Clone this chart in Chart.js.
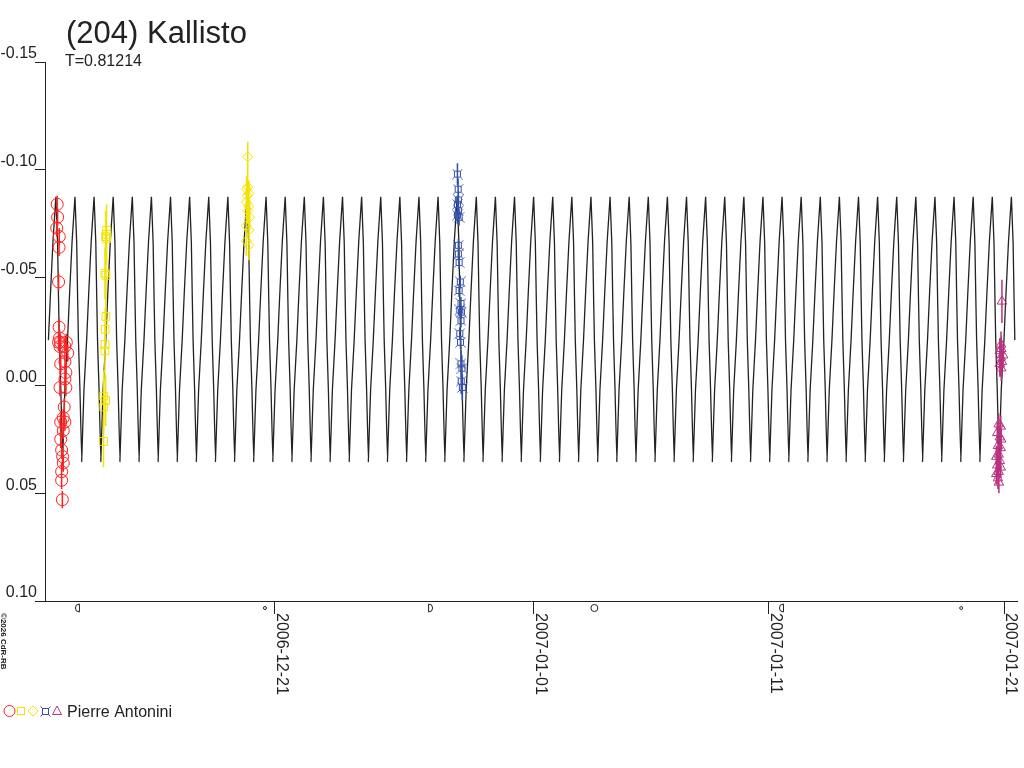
<!DOCTYPE html>
<html>
<head>
<meta charset="utf-8">
<title>(204) Kallisto</title>
<script src="https://cdn.jsdelivr.net/npm/chart.js@4.4.1/dist/chart.umd.min.js"></script>
<style>
  html, body { margin: 0; padding: 0; background: #fff; }
  canvas { display: block; }
</style>
</head>
<body>
<canvas id="lc" width="1024" height="768"></canvas>
<script>
// days are counted from 2006-12-21 00:00 UT, magnitudes are relative
var titleText = '(204) Kallisto';
var subtitleText = 'T=0.81214';
var observer = 'Pierre Antonini';
var copyright = '\u00a92026 CdR-RB';

var tickDays = [0, 11, 21, 31];
var tickLabels = ['2006-12-21', '2007-01-01', '2007-01-11', '2007-01-21'];
var yTicks = [-0.15, -0.10, -0.05, 0.00, 0.05, 0.10];

// moon phases shown under the axis
var moonDays = [-8.39, -0.42, 6.62, 13.58, 21.53, 29.17];
var moonKinds = ['last', 'new', 'first', 'full', 'last', 'new'];

// session 1 (red circles)
var redDays = [-9.25, -9.23, -9.27, -9.16, -9.17, -9.19, -9.17, -9.15, -9.19, -9.11, -9.13,
  -8.86, -8.80, -8.92, -9.10, -8.92, -8.88, -9.13, -8.92, -8.88, -8.95, -8.99, -9.10,
  -8.92, -8.99, -9.10, -9.06, -9.02, -8.99, -9.06, -9.06, -9.03];
var redMags = [-0.084, -0.078, -0.073, -0.069, -0.064, -0.048, -0.027, -0.022, -0.020, -0.020, -0.018,
  -0.020, -0.015, -0.018, -0.010, -0.011, -0.006, 0.001, -0.003, 0.001, 0.010, 0.015, 0.017,
  0.017, 0.021, 0.025, 0.030, 0.033, 0.036, 0.040, 0.044, 0.053];
var redErr = [0.004, 0.004, 0.004, 0.004, 0.004, 0.004, 0.004, 0.004, 0.004, 0.004, 0.004,
  0.004, 0.004, 0.004, 0.004, 0.004, 0.004, 0.004, 0.004, 0.004, 0.004, 0.004, 0.004,
  0.004, 0.004, 0.004, 0.004, 0.004, 0.004, 0.004, 0.004, 0.004];

// session 2 (yellow squares)
var sqDays = [-7.15, -7.15, -7.15, -7.19, -7.22, -7.18, -7.18, -7.21, -7.22, -7.22, -7.27, -7.19, -7.27, -7.28];
var sqMags = [-0.072, -0.070, -0.068, -0.069, -0.052, -0.051, -0.032, -0.026, -0.019, -0.016, 0.005, 0.007, 0.010, 0.026];
var sqErr = [0.012, 0.012, 0.012, 0.012, 0.012, 0.012, 0.008, 0.010, 0.010, 0.010, 0.012, 0.012, 0.012, 0.012];

// session 3 (yellow diamonds)
var diaDays = [-1.15, -1.15, -1.20, -1.10, -1.17, -1.21, -1.10, -1.15, -1.07, -1.21, -1.10, -1.21, -1.10];
var diaMags = [-0.106, -0.092, -0.091, -0.089, -0.088, -0.085, -0.083, -0.081, -0.078, -0.074, -0.072, -0.067, -0.065];
var diaErr = [0.007, 0.007, 0.006, 0.006, 0.006, 0.006, 0.006, 0.006, 0.006, 0.006, 0.006, 0.007, 0.007];

// session 4 (blue)
var blueDays = [7.76, 7.79, 7.80, 7.76, 7.80, 7.76, 7.83, 7.80, 7.80, 7.83, 7.88, 7.83, 7.91, 7.86,
  7.93, 7.91, 7.86, 7.89, 7.91, 7.95, 7.92, 7.97];
var blueMags = [-0.098, -0.091, -0.086, -0.084, -0.081, -0.079, -0.078, -0.065, -0.061, -0.057, -0.048,
  -0.044, -0.038, -0.035, -0.034, -0.030, -0.024, -0.020, -0.010, -0.008, -0.002, 0.001];
var blueErr = [0.005, 0.005, 0.004, 0.004, 0.004, 0.004, 0.004, 0.003, 0.003, 0.003, 0.003,
  0.003, 0.003, 0.003, 0.003, 0.003, 0.003, 0.003, 0.006, 0.006, 0.006, 0.006];

// session 5 (magenta triangles)
var magDays = [30.90, 30.86, 30.87, 30.81, 30.95, 30.85, 30.90, 30.81, 30.87,
  30.76, 30.85, 30.70, 30.81, 30.87, 30.73, 30.85, 30.76, 30.66, 30.81, 30.70, 30.85, 30.76, 30.66, 30.73, 30.77];
var magMags = [-0.039, -0.019, -0.017, -0.016, -0.014, -0.013, -0.011, -0.010, -0.008,
  0.018, 0.019, 0.022, 0.024, 0.025, 0.028, 0.029, 0.032, 0.033, 0.035, 0.037, 0.038, 0.040, 0.041, 0.043, 0.045];
var magErr = [0.010, 0.006, 0.006, 0.006, 0.006, 0.006, 0.006, 0.006, 0.006,
  0.005, 0.005, 0.005, 0.005, 0.005, 0.005, 0.005, 0.005, 0.005, 0.005, 0.005, 0.005, 0.005, 0.005, 0.005, 0.005];

// fitted light curve: one cycle, repeated with the period T
var period = 0.81214;
var peakEpoch = -8.493;
var cyclePhase = [0, 0.09, 0.14, 0.18, 0.26, 0.35, 0.47, 0.61, 0.72, 0.85];
var cycleMag = [-0.0875, -0.066, -0.040, -0.021, 0.002, 0.0354, 0.002, -0.021, -0.043, -0.067];
var curveStart = -9.68;
var curveEnd = 31.45;

var ink = '#222222';
var red = '#ff2020';
var yellow = '#f2e200';
var blue = '#3550a8';
var magenta = '#b8327f';
var font = '"Liberation Sans", Arial, sans-serif';

function pts(days, mags) {
  return days.map((d, i) => ({x: d, y: mags[i]}));
}

var curvePts = [];
for (var k = -3; k < 55; k++) {
  cyclePhase.forEach(function(p, i) {
    var t = peakEpoch + (k + p) * period;
    if (t >= curveStart && t <= curveEnd) curvePts.push({x: t, y: cycleMag[i]});
  });
}

function boxStar(color) {
  var c = document.createElement('canvas');
  c.width = 11; c.height = 11;
  var g = c.getContext('2d');
  g.strokeStyle = color;
  g.lineWidth = 1;
  g.strokeRect(2.5, 2.5, 6, 6);
  g.beginPath();
  g.moveTo(0.5, 0.5); g.lineTo(3, 3);
  g.moveTo(10.5, 0.5); g.lineTo(8, 3);
  g.moveTo(0.5, 10.5); g.lineTo(3, 8);
  g.moveTo(10.5, 10.5); g.lineTo(8, 8);
  g.stroke();
  return c;
}
var blueMark = boxStar(blue);

var series = [
  {days: redDays, mags: redMags, err: redErr, color: red},
  {days: sqDays, mags: sqMags, err: sqErr, color: yellow},
  {days: diaDays, mags: diaMags, err: diaErr, color: yellow},
  {days: blueDays, mags: blueMags, err: blueErr, color: blue},
  {days: magDays, mags: magMags, err: magErr, color: magenta}
];
var curveIndex = 5;

function drawErrorBars(chart) {
  var ctx = chart.ctx, x = chart.scales.x, y = chart.scales.y;
  ctx.save();
  ctx.lineWidth = 1.5;
  series.forEach(function(s) {
    ctx.strokeStyle = s.color;
    ctx.beginPath();
    s.days.forEach(function(d, i) {
      var px = x.getPixelForValue(d);
      ctx.moveTo(px, y.getPixelForValue(s.mags[i] - s.err[i]));
      ctx.lineTo(px, y.getPixelForValue(s.mags[i] + s.err[i]));
    });
    ctx.stroke();
  });
  ctx.restore();
}

function drawMoon(ctx, px, py, kind) {
  ctx.beginPath();
  if (kind === 'full') {
    ctx.arc(px, py, 3.5, 0, Math.PI * 2);
  } else if (kind === 'new') {
    ctx.arc(px, py, 1.5, 0, Math.PI * 2);
  } else if (kind === 'first') {
    ctx.arc(px - 2, py, 4, -Math.PI / 2, Math.PI / 2);
    ctx.closePath();
  } else {
    ctx.arc(px + 2, py, 4, Math.PI / 2, Math.PI * 1.5);
    ctx.closePath();
  }
  ctx.stroke();
}

var decor = {
  id: 'decor',
  afterDatasetDraw: function(chart, args) {
    if (args.index === curveIndex) drawErrorBars(chart);
  },
  afterDraw: function(chart) {
    var ctx = chart.ctx, x = chart.scales.x, area = chart.chartArea;
    ctx.save();
    ctx.fillStyle = ink;
    ctx.strokeStyle = ink;
    ctx.textAlign = 'left';
    ctx.textBaseline = 'alphabetic';

    ctx.font = '31px ' + font;
    ctx.fillText(titleText, 66, 43);
    ctx.font = '16px ' + font;
    ctx.fillText(subtitleText, 65, 66);

    // date labels, reading downwards from the tick
    tickDays.forEach(function(d, i) {
      ctx.save();
      ctx.translate(x.getPixelForValue(d) + 2, area.bottom + 12);
      ctx.rotate(Math.PI / 2);
      ctx.fillText(tickLabels[i], 0, 0);
      ctx.restore();
    });

    ctx.lineWidth = 1;
    moonDays.forEach(function(d, i) {
      drawMoon(ctx, x.getPixelForValue(d), area.bottom + 7, moonKinds[i]);
    });

    ctx.save();
    ctx.font = 'bold 8px ' + font;
    ctx.translate(1, 613);
    ctx.rotate(Math.PI / 2);
    ctx.fillText(copyright, 0, 0);
    ctx.restore();

    // legend
    var ly = 711;
    ctx.lineWidth = 1;
    ctx.strokeStyle = red;
    ctx.beginPath(); ctx.arc(9.5, ly, 5.5, 0, Math.PI * 2); ctx.stroke();
    ctx.strokeStyle = yellow;
    ctx.strokeRect(17.5, ly - 3.5, 7, 7);
    ctx.beginPath();
    ctx.moveTo(33, ly - 5); ctx.lineTo(38, ly); ctx.lineTo(33, ly + 5); ctx.lineTo(28, ly); ctx.closePath();
    ctx.stroke();
    ctx.drawImage(blueMark, 40, ly - 5);
    ctx.strokeStyle = magenta;
    ctx.beginPath();
    ctx.moveTo(57, ly - 5); ctx.lineTo(61.5, ly + 3.5); ctx.lineTo(52.5, ly + 3.5); ctx.closePath();
    ctx.stroke();
    ctx.fillStyle = ink;
    ctx.font = '16px ' + font;
    ctx.fillText(observer, 67, 717);
    ctx.restore();
  }
};

var none = 'rgba(0,0,0,0)';

new Chart(document.getElementById('lc').getContext('2d'), {
  type: 'scatter',
  data: {
    datasets: [
      {data: pts(redDays, redMags), pointStyle: 'circle', pointRadius: 6,
        borderColor: red, backgroundColor: none, pointBorderWidth: 1},
      {data: pts(sqDays, sqMags), pointStyle: 'rect', pointRadius: 5.5,
        borderColor: yellow, backgroundColor: none, pointBorderWidth: 1},
      {data: pts(diaDays, diaMags), pointStyle: 'rectRot', pointRadius: 5,
        borderColor: yellow, backgroundColor: none, pointBorderWidth: 1},
      {data: pts(blueDays, blueMags), pointStyle: blueMark, pointRadius: 5,
        borderColor: blue, backgroundColor: none},
      {data: pts(magDays, magMags), pointStyle: 'triangle', pointRadius: 5.5,
        borderColor: magenta, backgroundColor: none, pointBorderWidth: 1},
      // tiny tension keeps Chart.js off its column-merging fast path
      {type: 'line', data: curvePts, borderColor: ink, borderWidth: 1.3,
        pointRadius: 0, tension: 0.001, fill: false}
    ]
  },
  options: {
    responsive: false,
    animation: false,
    devicePixelRatio: 1,
    events: [],
    layout: {padding: {top: 62, right: 5, left: 0, bottom: 0}},
    plugins: {legend: {display: false}, tooltip: {enabled: false}},
    scales: {
      x: {
        type: 'linear',
        min: -9.767,
        max: 31.54,
        afterBuildTicks: function(scale) {
          scale.ticks = tickDays.map(v => ({value: v}));
        },
        afterFit: function(scale) { scale.height = 167; },
        ticks: {display: false},
        grid: {drawOnChartArea: false, tickLength: 13, color: ink, lineWidth: 1},
        border: {color: ink, width: 1}
      },
      y: {
        reverse: true,
        min: -0.15,
        max: 0.10,
        afterBuildTicks: function(scale) {
          scale.ticks = yTicks.map(v => ({value: v}));
        },
        afterFit: function(scale) { scale.width = 45; },
        ticks: {
          color: ink,
          font: {family: font, size: 16},
          padding: -2,
          labelOffset: -8,
          callback: function(v) { return Math.abs(v) < 1e-9 ? '0.00' : v.toFixed(2); }
        },
        grid: {drawOnChartArea: false, tickLength: 10, color: ink, lineWidth: 1},
        border: {color: ink, width: 1}
      }
    }
  },
  plugins: [decor]
});
</script>
</body>
</html>
